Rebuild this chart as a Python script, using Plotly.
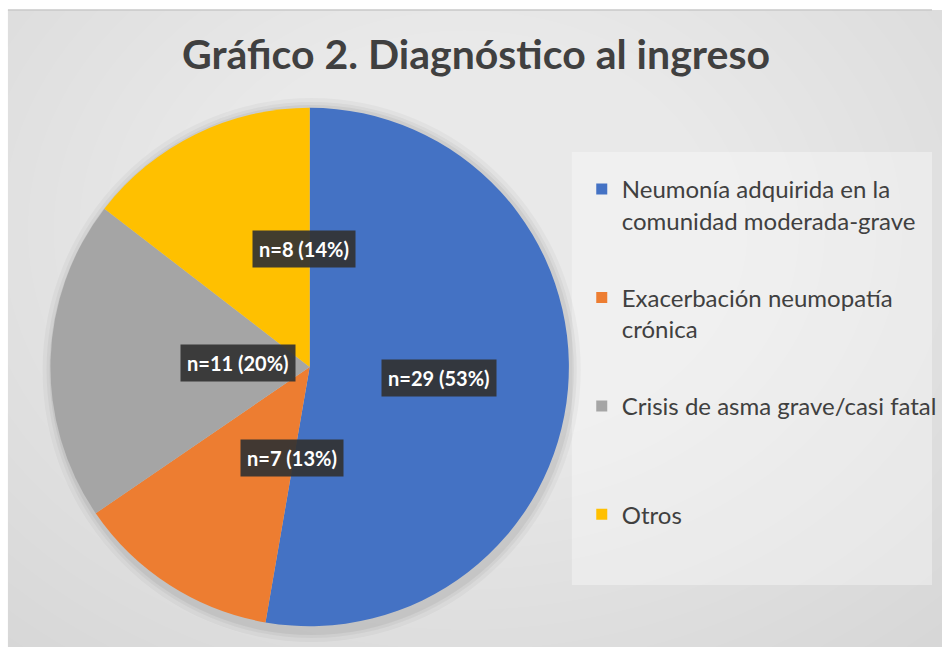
import math
import plotly.graph_objects as go

# ---- data ----
categories = [
    "Neumonía adquirida en la comunidad moderada-grave",
    "Exacerbación neumopatía crónica",
    "Crisis de asma grave/casi fatal",
    "Otros",
]
legend_labels = [
    "Neumonía adquirida en la<br>comunidad moderada-grave",
    "Exacerbación neumopatía<br>crónica",
    "Crisis de asma grave/casi fatal<br> ",
    "Otros",
]
counts = [29, 7, 11, 8]
percents = [53, 13, 20, 14]
colors = ["#4472C4", "#ED7D31", "#A5A5A5", "#FFC000"]
title_text = "Gráfico 2. Diagnóstico al ingreso"

# ---- layout geometry (pixels) ----
W, H = 942, 647
cx, cy, R = 313, 367, 262
FONT = "Lato"

def px(x):
    return x / W

def py(y):
    return 1 - y / H

fig = go.Figure()
fig.add_trace(go.Pie(
    labels=categories,
    values=counts,
    sort=False,
    direction="clockwise",
    rotation=0,
    marker=dict(colors=colors, line=dict(width=0)),
    textinfo="none",
    hoverinfo="label+value+percent",
    showlegend=False,
    domain=dict(x=[px(cx - R), px(cx + R)], y=[py(cy + R), py(cy - R)]),
))

# legend entries (one per category)
for i, (lab, col) in enumerate(zip(legend_labels, colors)):
    fig.add_trace(go.Scatter(
        x=[None], y=[None], mode="markers", name=lab,
        legendgroup=f"g{i}",
        marker=dict(symbol="square", size=11, color=col),
        hoverinfo="skip",
    ))

# data labels placed at slice mid-angles
total = sum(counts)
annotations = []
cum = 0
for n, p in zip(counts, percents):
    mid = (cum + n / 2) / total
    cum += n
    th = 2 * math.pi * mid
    x = cx + 0.5 * R * math.sin(th)
    y = cy - 0.5 * R * math.cos(th)
    annotations.append(dict(
        x=px(x), y=py(y), xref="paper", yref="paper",
        text=f"<b>n={n} ({p}%)</b>", showarrow=False,
        font=dict(family=FONT, size=20, color="white"),
        bgcolor="rgba(50,50,50,0.92)", borderpad=6,
    ))

# background shapes
shapes = []
# radial light gradient
gx, gy = 470, 230
for k in range(30):
    r = 600 - k * 20
    shapes.append(dict(type="circle", xref="paper", yref="paper",
                       x0=px(gx - r * 1.3), x1=px(gx + r * 1.3),
                       y0=py(gy + r), y1=py(gy - r),
                       fillcolor="rgba(255,255,255,0.045)", line=dict(width=0), layer="below"))
# white page strips (top and left)
shapes.append(dict(type="rect", xref="paper", yref="paper",
                   x0=-0.1, x1=1.1, y0=py(10), y1=1.1,
                   fillcolor="white", line=dict(width=0), layer="below"))
shapes.append(dict(type="rect", xref="paper", yref="paper",
                   x0=-0.1, x1=px(8), y0=-0.1, y1=1.1,
                   fillcolor="white", line=dict(width=0), layer="below"))
shapes.append(dict(type="line", xref="paper", yref="paper",
                   x0=px(8), x1=1, y0=py(10), y1=py(10),
                   line=dict(color="#c8c8c8", width=1.5), layer="below"))
# legend panel
shapes.append(dict(type="rect", xref="paper", yref="paper",
                   x0=px(578), x1=1, y0=py(585), y1=py(152),
                   fillcolor="rgba(255,255,255,0.35)", line=dict(width=0), layer="below"))
# pie shadow
for d, a in [(10, 0.03), (6, 0.04), (3, 0.05)]:
    shapes.append(dict(type="circle", xref="paper", yref="paper",
                       x0=px(cx - R - d + 2), x1=px(cx + R + d + 2),
                       y0=py(cy + R + d + 3), y1=py(cy - R - d + 3),
                       fillcolor=f"rgba(0,0,0,{a})", line=dict(width=0), layer="below"))

fig.update_layout(
    width=W, height=H,
    margin=dict(l=0, r=0, t=0, b=0),
    paper_bgcolor="#d4d4d4",
    plot_bgcolor="rgba(0,0,0,0)",
    title=dict(text=f"<b>{title_text}</b>", x=px(476), xanchor="center",
               y=py(55), yanchor="middle",
               font=dict(family=FONT, size=41, color="#404040")),
    xaxis=dict(visible=False),
    yaxis=dict(visible=False),
    showlegend=True,
    legend=dict(x=px(588), xanchor="left", y=py(167), yanchor="top",
                bgcolor="rgba(0,0,0,0)", valign="top",
                tracegroupgap=43,
                font=dict(family=FONT, size=24, color="#404040")),
    shapes=shapes,
    annotations=annotations,
)

fig.write_html("out.html", config={"displayModeBar": False},
               post_script="document.body.style.margin='0';")
